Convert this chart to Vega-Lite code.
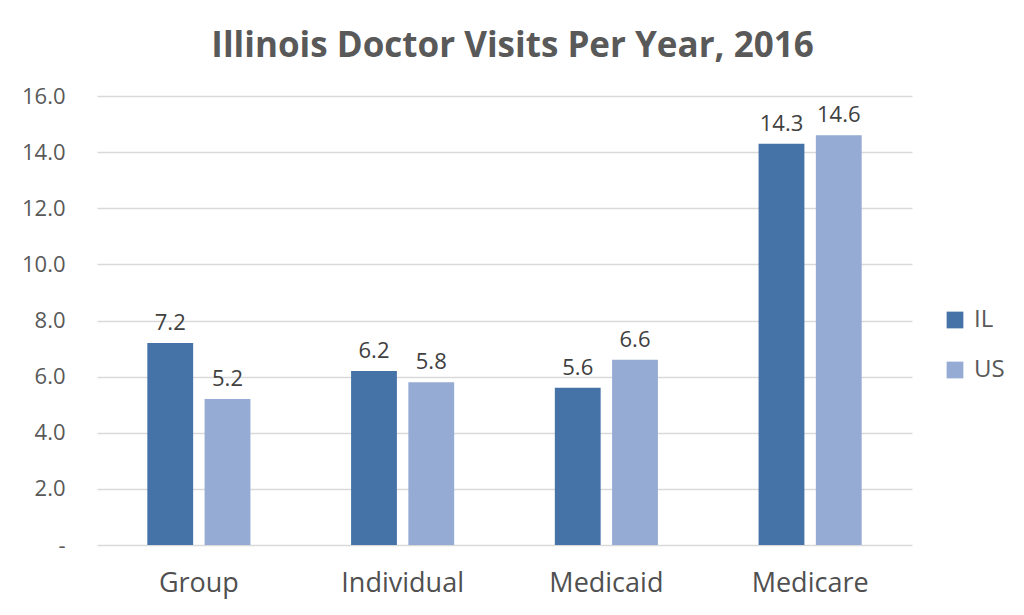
{
  "$schema": "https://vega.github.io/schema/vega-lite/v6.json",
  "autosize": {"type": "none"},
  "width": 815,
  "height": 449,
  "padding": {"left": 97, "top": 96, "right": 112, "bottom": 70},
  "background": "white",
  "title": {
    "text": "Illinois Doctor Visits Per Year, 2016",
    "font": "Open Sans",
    "fontSize": 35,
    "fontWeight": "bold",
    "color": "#595959",
    "offset": 21,
    "dx": 8
  },
  "data": {
    "values": [
      {"category": "Group", "region": "IL", "visits": 7.2},
      {"category": "Group", "region": "US", "visits": 5.2},
      {"category": "Individual", "region": "IL", "visits": 6.2},
      {"category": "Individual", "region": "US", "visits": 5.8},
      {"category": "Medicaid", "region": "IL", "visits": 5.6},
      {"category": "Medicaid", "region": "US", "visits": 6.6},
      {"category": "Medicare", "region": "IL", "visits": 14.3},
      {"category": "Medicare", "region": "US", "visits": 14.6}
    ]
  },
  "encoding": {
    "x": {
      "field": "category",
      "type": "nominal",
      "sort": null,
      "scale": {"paddingInner": 0.494, "paddingOuter": 0.247},
      "axis": {
        "title": null,
        "labelAngle": 0,
        "labelFont": "Open Sans",
        "labelFontSize": 27,
        "labelColor": "#505050",
        "labelPadding": 25,
        "ticks": false,
        "domain": false
      }
    },
    "xOffset": {
      "field": "region",
      "type": "nominal",
      "scale": {"paddingInner": 0.2, "paddingOuter": 0}
    },
    "y": {
      "field": "visits",
      "type": "quantitative",
      "scale": {"domain": [0, 16], "nice": false},
      "axis": {
        "title": null,
        "values": [0, 2, 4, 6, 8, 10, 12, 14, 16],
        "labelExpr": "datum.value == 0 ? '-' : format(datum.value, '.1f')",
        "labelFont": "Open Sans",
        "labelFontSize": 22,
        "labelColor": "#595959",
        "labelPadding": 32,
        "ticks": false,
        "domain": false,
        "gridColor": "#d9d9d9",
        "gridWidth": 1.5
      }
    }
  },
  "layer": [
    {
      "mark": {"type": "bar"},
      "encoding": {
        "color": {
          "field": "region",
          "type": "nominal",
          "scale": {"domain": ["IL", "US"], "range": ["#4572A7", "#95ABD4"]},
          "legend": {
            "title": null,
            "orient": "none",
            "legendX": 846,
            "legendY": 212,
            "symbolType": "square",
            "symbolSize": 280,
            "symbolStrokeWidth": 0,
            "labelFont": "Open Sans",
            "labelFontSize": 24,
            "labelColor": "#595959",
            "labelOffset": 7,
            "rowPadding": 26
          }
        }
      }
    },
    {
      "mark": {
        "type": "text",
        "baseline": "alphabetic",
        "dy": -13,
        "font": "Open Sans",
        "fontSize": 22,
        "color": "#404040"
      },
      "encoding": {
        "text": {"field": "visits", "type": "quantitative", "format": ".1f"}
      }
    }
  ],
  "config": {"view": {"stroke": null}}
}
